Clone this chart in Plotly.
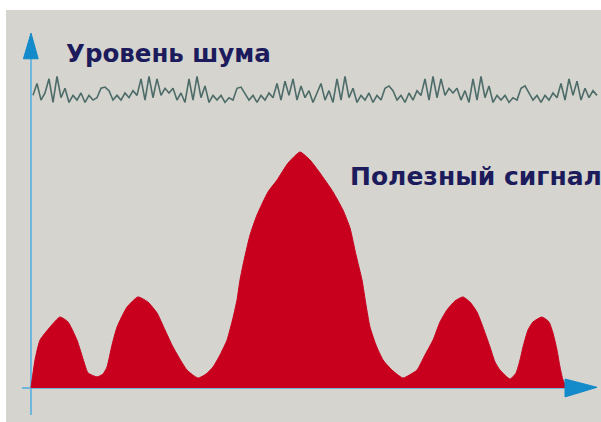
import numpy as np
import plotly.graph_objects as go

# ---- data (time in samples, amplitude with main peak = 100) ----
signal_t = [0, 1, 2.25, 4.75, 7.25, 9.25, 11.5, 13.25, 14.25, 16.5, 18, 19, 20.25, 21.5,
            24, 26.75, 29.25, 31.5, 33.5, 35.5, 39, 41.75, 43.75, 45.5, 47.25, 49, 50.5,
            51.5, 52.25, 53, 54.75, 56.5, 59.25, 61.5, 64.25, 67.25, 69.75, 72.25, 75.5,
            78, 79.75, 81.25, 82.75, 83.75, 84.75, 86.25, 88, 90.25, 93, 95, 96.5, 98.5,
            100.5, 102.25, 104, 106, 108, 109.75, 111.5, 113.25, 114.75, 116, 117.25,
            119.75, 121.25, 122.25, 123, 124.25, 125.5, 127.75, 129.5, 130.5, 131.5,
            132.25, 133, 134]
signal_amp = [0, 11.9, 20.3, 25.8, 30.1, 28.0, 20.3, 11.0, 6.4, 4.7, 5.9, 8.9, 18.2, 25.8,
              34.3, 38.6, 36.4, 31.8, 24.6, 17.4, 7.6, 4.2, 5.9, 8.9, 14.0, 20.3, 29.7,
              37.3, 45.8, 52.1, 64.8, 73.3, 83.1, 88.1, 95.3, 100, 96.6, 91.1, 83.1,
              75.4, 67.8, 56.4, 45.8, 35.2, 25.8, 18.2, 11.9, 7.6, 4.2, 5.9, 7.6, 14.0,
              20.3, 28.0, 33.1, 36.9, 38.6, 36.4, 32.2, 24.6, 17.4, 11.0, 7.6,
              3.8, 6.4, 11.9, 17.4, 24.6, 28.0, 30.1, 28.0, 23.3, 16.1,
              8.9, 3.4, 0]

noise_level = [124, 129, 122, 125, 131, 121, 132, 123, 127, 121, 124, 122, 125, 121, 124, 122,
               123, 127, 127.5, 126, 122, 124, 122, 125, 123, 126, 124, 131, 122, 132, 123,
               131, 124, 127, 125, 127, 122, 125, 121, 131, 122, 132, 123, 128, 121, 124,
               122, 124, 121, 123, 122, 127, 127.5, 125, 122, 124, 121, 124, 122, 125, 123,
               129, 122, 130, 124, 131, 122, 128, 123, 126, 121,
               125, 129, 122, 126, 121, 131, 122, 132, 123, 127, 121, 124, 122, 125, 121,
               124, 122, 127, 128, 126, 122, 124, 121, 125, 122, 126, 124, 131, 122, 132,
               123, 131, 124, 127, 125, 127, 122, 126, 121, 131, 122, 132, 123, 128, 121,
               124, 122, 124, 121, 123, 122, 127, 128, 125, 122, 124, 121, 124, 122, 125,
               123, 129, 122, 131, 124, 130, 122, 127, 123, 126, 124]
noise_t = list(0.5 + np.arange(len(noise_level)))

label_noise = "Уровень шума"
label_signal = "Полезный сигнал"

RED = "#c8001e"
NOISE = "#4d6b68"
AXIS_LIGHT = "#6fb6dc"
AXIS_DARK = "#138ac9"
TEXT = "#1c1b5c"
FONT = "DejaVu Sans"

fig = go.Figure()

fig.add_trace(go.Scatter(
    x=signal_t, y=signal_amp, mode="lines", fill="tozeroy",
    line=dict(color=RED, width=1, shape="spline", smoothing=0.5),
    fillcolor=RED, hoverinfo="skip", showlegend=False))

fig.add_trace(go.Scatter(
    x=noise_t, y=noise_level, mode="lines",
    line=dict(color=NOISE, width=1.6),
    hoverinfo="skip", showlegend=False))

shapes = [
    # grey panel
    dict(type="rect", xref="paper", yref="paper", x0=6 / 601, x1=1, y0=0, y1=(422 - 10) / 422,
         fillcolor="#d5d4ce", line=dict(width=0), layer="below"),
    # vertical axis
    dict(type="line", x0=0, x1=0, y0=-11.4, y1=141, line=dict(color=AXIS_LIGHT, width=2),
         layer="below"),
    # horizontal axis
    dict(type="line", x0=-2.25, x1=134, y0=0, y1=0, line=dict(color=AXIS_LIGHT, width=2),
         layer="below"),
    # vertical arrowhead
    dict(type="path", path="M -1.9,139.5 L 0,150.4 L 1.8,139.5 Z",
         fillcolor=AXIS_DARK, line=dict(color=AXIS_DARK, width=1)),
    # horizontal arrowhead
    dict(type="path", path="M 133.5,3.8 L 141.5,0.3 L 133.5,-3.8 Z",
         fillcolor=AXIS_DARK, line=dict(color=AXIS_DARK, width=1)),
]

annotations = [
    dict(text=f"<b>{label_noise}</b>", xref="paper", yref="paper", x=64 / 601, y=1 - 54 / 422,
         xanchor="left", yanchor="middle", showarrow=False,
         font=dict(family=FONT, size=24.5, color=TEXT)),
    dict(text=f"<b>{label_signal}</b>", xref="paper", yref="paper", x=348 / 601, y=1 - 177 / 422,
         xanchor="left", yanchor="middle", showarrow=False,
         font=dict(family=FONT, size=25, color=TEXT)),
]

fig.update_layout(
    width=601, height=422, autosize=False,
    margin=dict(l=0, r=0, t=0, b=0, pad=0),
    paper_bgcolor="white", plot_bgcolor="rgba(0,0,0,0)",
    xaxis=dict(range=[-7.75, 142.5], visible=False, fixedrange=True),
    yaxis=dict(range=[-14.41, 164.41], visible=False, fixedrange=True),
    shapes=shapes, annotations=annotations,
    hovermode=False, showlegend=False,
)

fig.write_html("out.html", config={"displayModeBar": False},
               post_script="document.body.style.margin='0';document.body.style.overflow='hidden';")
